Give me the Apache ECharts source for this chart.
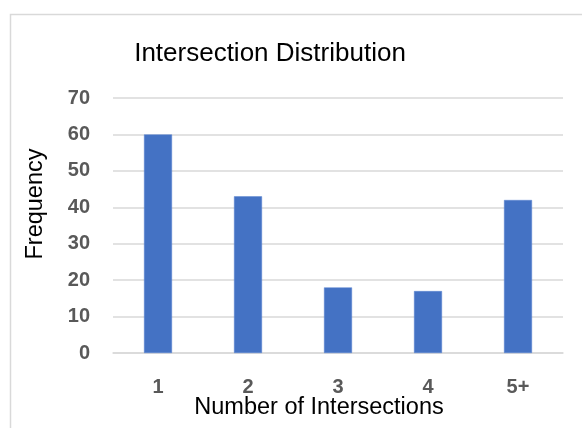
<!DOCTYPE html>
<html>
<head>
<meta charset="utf-8">
<script src="https://cdn.jsdelivr.net/npm/echarts@6/dist/echarts.min.js"></script>
<style>
  html, body { margin: 0; padding: 0; background: #ffffff; }
  #chart { width: 582px; height: 428px; }
</style>
</head>
<body>
<div id="chart"></div>
<script>
// Histogram of intersection counts
const categories = ['1', '2', '3', '4', '5+'];
const frequency = [60, 43, 18, 17, 42];
const yTicks = { min: 0, max: 70, interval: 10 };

const chart = echarts.init(document.getElementById('chart'), null, { renderer: 'canvas' });

const gridLine = '#d9d9d9';
const tickColor = '#595959';
const textFont = 'Liberation Sans';

const tickLabel = {
  color: tickColor,
  fontFamily: textFont,
  fontWeight: 'bold',
  fontSize: 20
};

chart.setOption({
  animation: false,
  backgroundColor: '#ffffff',
  grid: { left: 113, right: 19, top: 98, bottom: 75, containLabel: false },
  graphic: [
    {
      type: 'rect',
      shape: { x: 10.5, y: 14.5, width: 640, height: 500 },
      style: { fill: 'none', stroke: '#d9d9d9', lineWidth: 1.5 },
      silent: true,
      z: -1
    },
    {
      type: 'text',
      style: {
        text: 'Intersection Distribution',
        fontSize: 26,
        fontFamily: textFont,
        fill: '#000000',
        textAlign: 'center',
        textVerticalAlign: 'middle'
      },
      x: 270, y: 54
    },
    {
      type: 'text',
      style: {
        text: 'Number of Intersections',
        fontSize: 23.5,
        fontFamily: textFont,
        fill: '#000000',
        textAlign: 'center',
        textVerticalAlign: 'middle'
      },
      x: 319, y: 408
    },
    {
      type: 'text',
      rotation: Math.PI / 2,
      style: {
        text: 'Frequency',
        fontSize: 23.5,
        fontFamily: textFont,
        fill: '#000000',
        textAlign: 'center',
        textVerticalAlign: 'middle'
      },
      x: 36, y: 204
    }
  ],
  xAxis: {
    type: 'category',
    data: categories,
    axisLine: { show: true, lineStyle: { color: gridLine, width: 1.5 } },
    axisTick: { show: false },
    axisLabel: Object.assign({ margin: 24 }, tickLabel)
  },
  yAxis: {
    type: 'value',
    min: yTicks.min,
    max: yTicks.max,
    interval: yTicks.interval,
    axisLine: { show: false },
    axisTick: { show: false },
    splitLine: { lineStyle: { color: gridLine, width: 1.5 } },
    axisLabel: Object.assign({ margin: 23 }, tickLabel)
  },
  series: [
    {
      type: 'bar',
      data: frequency,
      barWidth: 28,
      itemStyle: { color: '#4472c4', borderColor: '#5a85d0', borderWidth: 0.5 }
    }
  ]
});
</script>
</body>
</html>
